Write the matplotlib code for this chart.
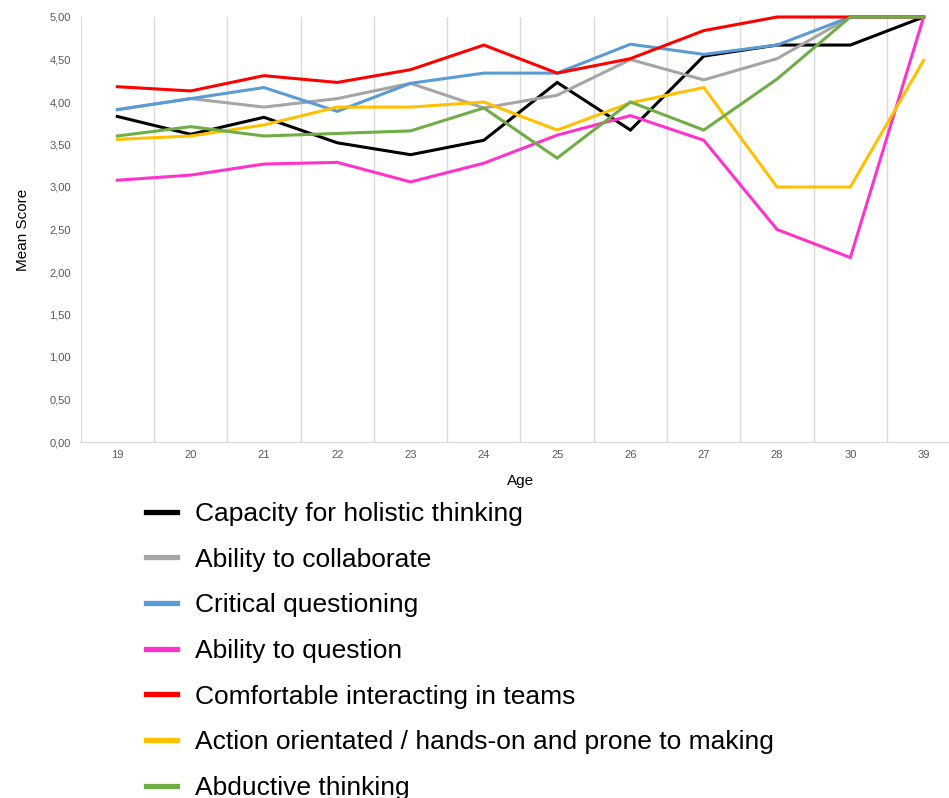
import matplotlib

matplotlib.use("Agg")
import matplotlib.pyplot as plt
from matplotlib.ticker import FuncFormatter

ages = ["19", "20", "21", "22", "23", "24", "25", "26", "27", "28", "30", "39"]

holistic = [3.83, 3.62, 3.82, 3.52, 3.38, 3.55, 4.23, 3.67, 4.54, 4.67, 4.67, 5.00]
collaborate = [3.91, 4.04, 3.94, 4.04, 4.22, 3.93, 4.08, 4.50, 4.26, 4.51, 5.00, 5.00]
critical = [3.91, 4.04, 4.17, 3.89, 4.22, 4.34, 4.34, 4.68, 4.56, 4.67, 5.00, 5.00]
question = [3.08, 3.14, 3.27, 3.29, 3.06, 3.28, 3.61, 3.84, 3.55, 2.50, 2.17, 5.00]
teams = [4.18, 4.13, 4.31, 4.23, 4.38, 4.67, 4.34, 4.51, 4.84, 5.00, 5.00, 5.00]
action = [3.56, 3.60, 3.73, 3.94, 3.94, 4.00, 3.67, 3.99, 4.17, 3.00, 3.00, 4.49]
abductive = [3.60, 3.71, 3.60, 3.63, 3.66, 3.93, 3.34, 4.00, 3.67, 4.27, 5.00, 5.00]

series = [
    ("Capacity for holistic thinking", holistic, "#000000"),
    ("Ability to collaborate", collaborate, "#a5a5a5"),
    ("Critical questioning", critical, "#5b9bd5"),
    ("Ability to question", question, "#ff33cc"),
    ("Comfortable interacting in teams", teams, "#ff0000"),
    ("Action orientated / hands-on and prone to making", action, "#ffc000"),
    ("Abductive thinking", abductive, "#70ad47"),
]

plt.rcParams["font.family"] = ["Liberation Sans", "DejaVu Sans"]

W, H = 949, 798
fig = plt.figure(figsize=(W / 100, H / 100), dpi=100)
left, right, top, bottom = 80.7, 960.3, 17, 442
ax = fig.add_axes([left / W, 1 - bottom / H, (right - left) / W, (bottom - top) / H])

x = list(range(len(ages)))
for label, vals, color in series:
    ax.plot(x, vals, color=color, lw=2.2, label=label, clip_on=False, solid_joinstyle="miter")

ax.set_xlim(-0.5, len(ages) - 0.5)
ax.set_ylim(0, 5)
ax.set_xticks(x)
ax.set_xticklabels(ages)
ax.set_yticks([i * 0.5 for i in range(11)])
ax.yaxis.set_major_formatter(FuncFormatter(lambda v, _: f"{v:.2f}".replace(".", ",")))
ax.tick_params(length=0, labelsize=8, labelcolor="#595959")
ax.tick_params(axis="x", pad=6)
ax.tick_params(axis="y", pad=7)

for b in range(1, len(ages)):
    ax.axvline(b - 0.5, color="#d9d9d9", lw=1, zorder=0)
for side in ["top", "right"]:
    ax.spines[side].set_visible(False)
for side in ["left", "bottom"]:
    ax.spines[side].set_color("#d9d9d9")

ax.set_xlabel("Age", fontsize=11, labelpad=10)
ax.set_ylabel("Mean Score", fontsize=11, labelpad=14)

fig.legend(
    loc="upper left",
    bbox_to_anchor=(146 / W, 1 - 502 / H),
    frameon=False,
    fontsize=19,
    handlelength=1.17,
    handletextpad=0.68,
    labelspacing=0.82,
    borderpad=0,
    borderaxespad=0,
)
for line in fig.legends[0].get_lines():
    line.set_linewidth(3.8)

fig.savefig("out.png", dpi=100)
